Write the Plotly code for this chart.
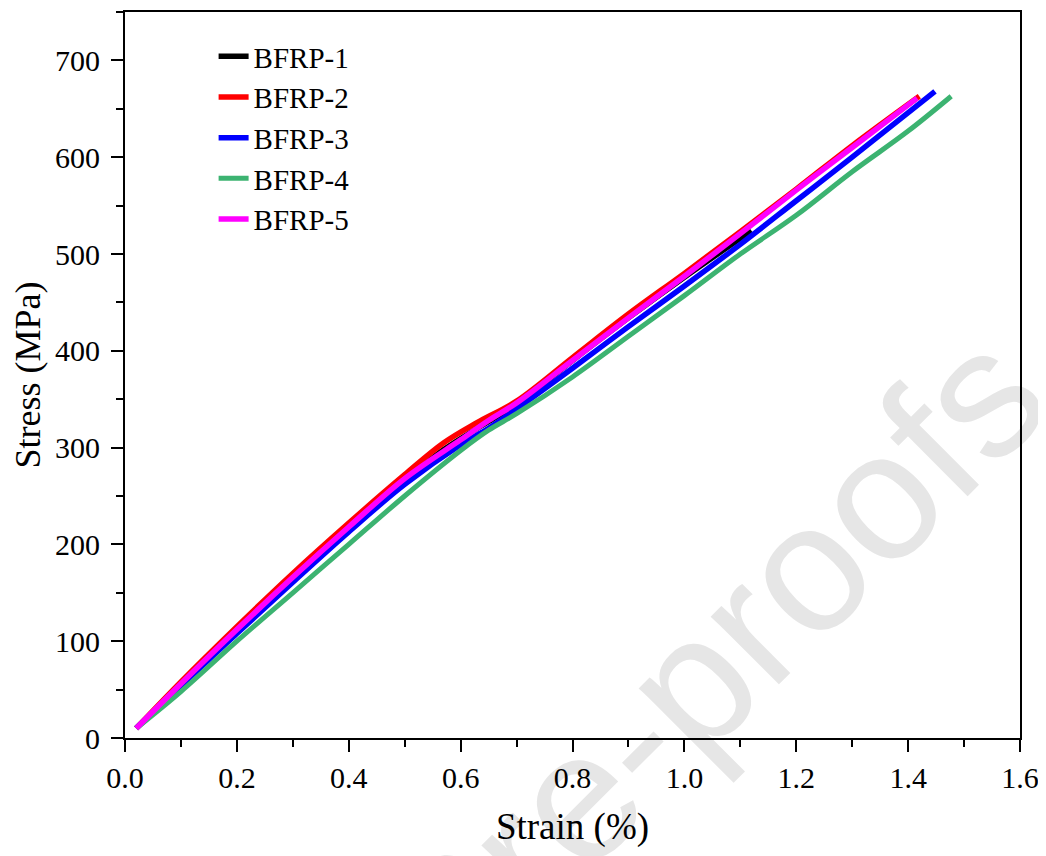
import plotly.graph_objects as go

names = ["BFRP-1", "BFRP-2", "BFRP-3", "BFRP-4", "BFRP-5"]
colors = ["#000000", "#ff0000", "#0000ff", "#3cb371", "#ff00ff"]

strain_1 = [0.02, 0.1, 0.2, 0.3, 0.4, 0.5, 0.57, 0.63, 0.7, 0.8, 0.9, 1.0, 1.12]
stress_1 = [10, 55, 110, 165, 217, 266, 298, 320, 345, 390, 434, 476, 524]

strain_2 = [0.02, 0.1, 0.2, 0.3, 0.4, 0.5, 0.57, 0.63, 0.7, 0.8, 0.9, 1.0, 1.1, 1.2, 1.3, 1.42]
stress_2 = [10, 58, 115, 170, 222, 272, 305, 326, 348, 393, 438, 480, 523, 567, 612, 663]

strain_3 = [0.02, 0.1, 0.2, 0.3, 0.4, 0.5, 0.6, 0.65, 0.7, 0.8, 0.9, 1.0, 1.1, 1.2, 1.3, 1.448]
stress_3 = [10, 54, 108, 161, 213, 262, 303, 320, 340, 382, 425, 467, 510, 555, 600, 668]

strain_4 = [0.02, 0.1, 0.2, 0.3, 0.4, 0.5, 0.6, 0.65, 0.7, 0.8, 0.9, 1.0, 1.1, 1.2, 1.3, 1.4, 1.477]
stress_4 = [10, 48, 100, 150, 200, 250, 297, 318, 335, 373, 415, 457, 500, 540, 585, 627, 663]

strain_5 = [0.02, 0.1, 0.2, 0.3, 0.4, 0.5, 0.6, 0.65, 0.7, 0.8, 0.9, 1.0, 1.1, 1.2, 1.3, 1.416]
stress_5 = [10, 56, 112, 166, 218, 268, 308, 328, 346, 390, 434, 477, 521, 566, 610, 661]

strains = [strain_1, strain_2, strain_3, strain_4, strain_5]
stresses = [stress_1, stress_2, stress_3, stress_4, stress_5]
widths = [5.5, 5.5, 5.5, 5, 5.5]

fig = go.Figure()
for n, c, xs, ys, w in zip(names, colors, strains, stresses, widths):
    fig.add_trace(go.Scatter(x=xs, y=ys, mode="lines", name=n,
                             line=dict(color=c, width=w, shape="spline", smoothing=1.0)))

# page body has an 8px margin, so the figure is slightly smaller than the window
W, H = 1038, 848
ml, mr, mt, mb = 117, 26, 2, 118
pw, ph = W - ml - mr, H - mt - mb
def px2paper(px, py):
    return (px - ml) / pw, (H - mb - py) / ph

# watermark (drawn below axes and traces)
cx, cy = 462, 872
x0, y0 = px2paper(cx - 400, cy + 400)
x1, y1 = px2paper(cx + 400, cy - 400)
fig.add_shape(type="line", xref="paper", yref="paper", x0=x0, y0=y0, x1=x1, y1=y1,
              line=dict(width=0, color="rgba(0,0,0,0)"), layer="below",
              label=dict(text="Journal Pre-proofs", textposition="middle", yanchor="middle",
                         font=dict(family="Liberation Sans", size=182, color="#e6e6e6")))

font_serif = "Liberation Serif, Times New Roman, serif"
fig.update_layout(
    width=W, height=H,
    margin=dict(l=ml, r=mr, t=mt, b=mb),
    paper_bgcolor="white", plot_bgcolor="rgba(0,0,0,0)",
    font=dict(family=font_serif, size=30, color="black"),
    showlegend=True,
    legend=dict(x=0.099, y=0.974, xanchor="left", yanchor="top",
                bgcolor="rgba(0,0,0,0)", font=dict(size=29, family=font_serif),
                tracegroupgap=0),
    xaxis=dict(range=[0, 1.6], dtick=0.2, tick0=0, tickformat=".1f",
               showline=True, linecolor="black", linewidth=2, mirror=True,
               ticks="outside", ticklen=12, tickwidth=2, tickcolor="black",
               minor=dict(dtick=0.1, ticks="outside", ticklen=7, tickwidth=2, tickcolor="black"),
               showgrid=False, zeroline=False,
               title=dict(text="Strain (%)", font=dict(size=37), standoff=20)),
    yaxis=dict(range=[0, 750], dtick=100, tick0=0,
               showline=True, linecolor="black", linewidth=2, mirror=True,
               ticks="outside", ticklen=12, tickwidth=2, tickcolor="black",
               ticklabelstandoff=5,
               minor=dict(dtick=50, ticks="outside", ticklen=7, tickwidth=2, tickcolor="black"),
               showgrid=False, zeroline=False,
               title=dict(text="Stress (MPa)", font=dict(size=36), standoff=5)),
)

fig.write_html("out.html")
